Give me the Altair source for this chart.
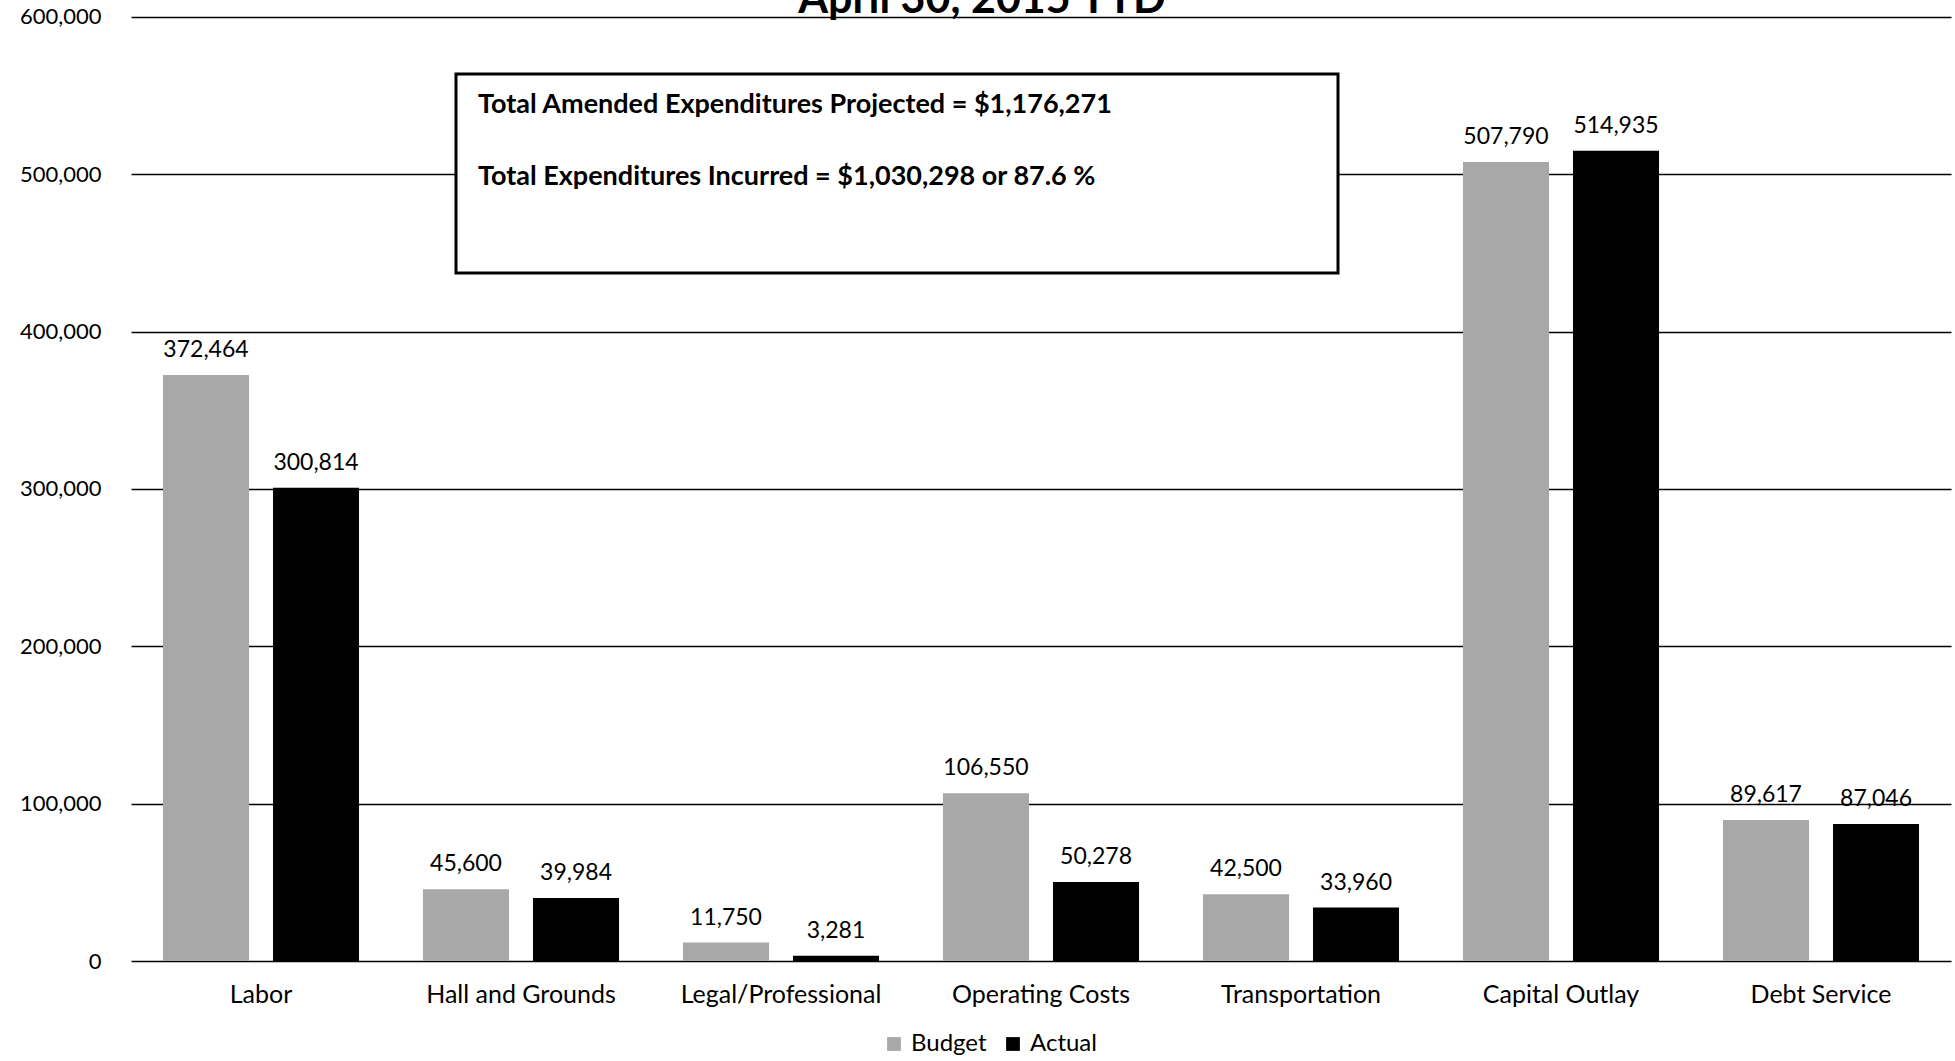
import altair as alt
import pandas as pd

categories = ["Labor", "Hall and Grounds", "Legal/Professional", "Operating Costs",
              "Transportation", "Capital Outlay", "Debt Service"]
budget = [372464, 45600, 11750, 106550, 42500, 507790, 89617]
actual = [300814, 39984, 3281, 50278, 33960, 514935, 87046]
series = ["Budget", "Actual"]
y_ticks = [0, 100000, 200000, 300000, 400000, 500000, 600000]
title_text = "April 30, 2015 YTD"
box_line1 = "Total Amended Expenditures Projected = $1,176,271"
box_line2 = "Total Expenditures Incurred = $1,030,298 or 87.6 %"

rows = []
for c, b, a in zip(categories, budget, actual):
    rows.append({"category": c, "series": "Budget", "value": b})
    rows.append({"category": c, "series": "Actual", "value": a})
df = pd.DataFrame(rows)

FONT = "Lato"
W, H = 1820, 961

y_axis = alt.Axis(values=y_ticks, labelExpr="format(datum.value, ',')", labelFontSize=22,
                  labelFont=FONT, labelColor="black", ticks=False, domain=False,
                  labelPadding=30, grid=True, gridColor="black", gridWidth=1.5)
x_axis = alt.Axis(labelAngle=0, labelFontSize=25, labelFont=FONT, labelColor="black",
                  ticks=False, domain=False, labelPadding=21, labelLimit=0)
x_enc = alt.X("category:N", sort=categories, title=None,
              scale=alt.Scale(paddingInner=0.246, paddingOuter=0.123), axis=x_axis)
xo_enc = alt.XOffset("series:N", sort=series, scale=alt.Scale(paddingInner=0.218, paddingOuter=0))
y_scale = alt.Scale(domain=[0, 610800], nice=False, zero=True)
y_enc = alt.Y("value:Q", scale=y_scale, title=None, axis=y_axis)

bars = alt.Chart(df).mark_bar().encode(
    x=x_enc,
    xOffset=xo_enc,
    y=y_enc,
    color=alt.Color("series:N", sort=series,
                    scale=alt.Scale(domain=series, range=["#a8a8a8", "#000000"]),
                    legend=alt.Legend(title=None, orient="none", direction="horizontal",
                                      legendX=751, legendY=1032, labelFontSize=24,
                                      labelFont=FONT, labelColor="black", symbolType="square",
                                      symbolSize=190, columnPadding=14, labelOffset=5,
                                      symbolStrokeWidth=0)),
)

labels = alt.Chart(df).mark_text(baseline="alphabetic", dy=-18, fontSize=23, font=FONT,
                                 color="black").encode(
    x=x_enc,
    xOffset=xo_enc,
    y=y_enc,
    text=alt.Text("value:Q", format=","),
)

title_mark = alt.Chart(pd.DataFrame({"t": [title_text]})).mark_text(
    fontSize=43, fontWeight="bold", font=FONT, color="black", baseline="alphabetic",
    align="center", clip=True
).encode(x=alt.value(851), y=alt.value(13), text="t:N")

box = alt.Chart(pd.DataFrame({"b": [1]})).mark_rect(
    fill="white", stroke="black", strokeWidth=3
).encode(x=alt.value(325), x2=alt.value(1207), y=alt.value(74), y2=alt.value(273))

box_text1 = alt.Chart(pd.DataFrame({"t": [box_line1]})).mark_text(
    fontSize=27, fontWeight="bold", font=FONT, color="black", align="left", baseline="middle"
).encode(x=alt.value(347), y=alt.value(105), text="t:N")

box_text2 = alt.Chart(pd.DataFrame({"t": [box_line2]})).mark_text(
    fontSize=27, fontWeight="bold", font=FONT, color="black", align="left", baseline="middle"
).encode(x=alt.value(347), y=alt.value(177), text="t:N")

chart = alt.layer(bars, labels, box, box_text1, box_text2, title_mark).properties(
    width=W, height=H,
    autosize=alt.AutoSizeParams(type="none"),
    padding={"left": 131, "top": 0, "right": 4, "bottom": 100},
).configure(background="white").configure_view(stroke=None)

chart.save("out.html", embed_options={"renderer": "svg", "actions": False})
